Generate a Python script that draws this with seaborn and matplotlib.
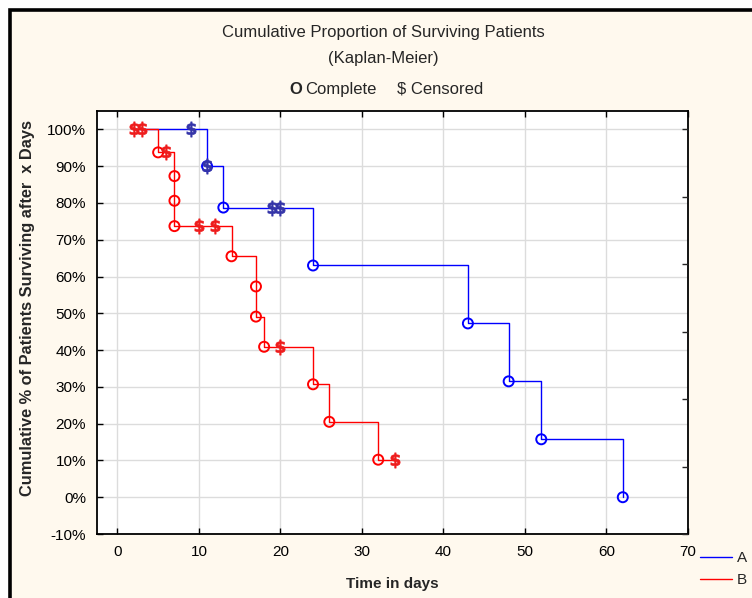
import numpy as np
import pandas as pd
import matplotlib
matplotlib.use("Agg")
import matplotlib.pyplot as plt
import seaborn as sns
from matplotlib.patches import Rectangle
from matplotlib.lines import Line2D

# ---- data (time in days, cumulative % surviving) ----
a_step_t = [2, 11, 13, 24, 43, 48, 52, 62]
a_step_s = [100, 90, 78.75, 63, 47.25, 31.5, 15.75, 0]
a_comp_t = [11, 13, 24, 43, 48, 52, 62]
a_comp_s = [90, 78.75, 63, 47.25, 31.5, 15.75, 0]
a_cens_t = [9, 11, 19, 20]
a_cens_s = [100, 90, 78.75, 78.75]

b_step_t = [2, 5, 7, 14, 17, 18, 24, 26, 32, 34]
b_step_s = [100, 93.75, 73.7, 65.5, 49.1, 40.9, 30.7, 20.5, 10.2, 10.2]
b_comp_t = [5, 7, 7, 7, 14, 17, 17, 18, 24, 26, 32]
b_comp_s = [93.75, 87.3, 80.6, 73.7, 65.5, 57.3, 49.1, 40.9, 30.7, 20.5, 10.2]
b_cens_t = [2, 3, 6, 10, 12, 20, 34]
b_cens_s = [100, 100, 93.75, 73.7, 73.7, 40.9, 10.2]

x_ticks = [0, 10, 20, 30, 40, 50, 60, 70]
y_ticks = [-10, 0, 10, 20, 30, 40, 50, 60, 70, 80, 90, 100]
y_ticklabels = ["-10%", "0%", "10%", "20%", "30%", "40%", "50%", "60%",
                "70%", "80%", "90%", "100%"]

BLUE = "#0000FF"
RED = "#FF0000"
BLUE_CENS = "#3434A8"
RED_CENS = "#EE1C1C"
CREAM = "#FFF9EE"

sns.set_theme(style="white")
plt.rcParams["font.family"] = ["Liberation Sans", "DejaVu Sans"]
plt.rcParams["axes.unicode_minus"] = False

fig = plt.figure(figsize=(7.52, 5.98), dpi=100, facecolor="white")
# cream panel with thick black frame (right/bottom edges run off the image)
fig.patches.append(Rectangle((9.5 / 752, -0.05), 1.0, 1 - 9.5 / 598 + 0.05,
                             transform=fig.transFigure, facecolor=CREAM,
                             edgecolor="black", linewidth=2.6, zorder=-5))

ax = fig.add_axes([97 / 752, 1 - 534 / 598, (688 - 97) / 752, (534 - 111) / 598])
ax.set_facecolor("white")

dfa = pd.DataFrame({"t": a_step_t, "s": a_step_s})
dfb = pd.DataFrame({"t": b_step_t, "s": b_step_s})
sns.lineplot(data=dfa, x="t", y="s", drawstyle="steps-post", estimator=None,
             sort=False, color=BLUE, lw=1.0, ax=ax, zorder=3)
sns.lineplot(data=dfb, x="t", y="s", drawstyle="steps-post", estimator=None,
             sort=False, color=RED, lw=1.0, ax=ax, zorder=4)

sns.scatterplot(x=a_comp_t, y=a_comp_s, marker="o", s=52, color=BLUE,
                facecolor="none", edgecolor=BLUE, linewidth=1.4, ax=ax, zorder=5)
sns.scatterplot(x=b_comp_t, y=b_comp_s, marker="o", s=52, color=RED,
                facecolor="none", edgecolor=RED, linewidth=1.4, ax=ax, zorder=5)

dollar = r"$\mathbf{\$}$"
sns.scatterplot(x=a_cens_t, y=a_cens_s, marker=dollar, s=120, color=BLUE_CENS,
                edgecolor=BLUE_CENS, linewidth=0.5, ax=ax, zorder=6)
sns.scatterplot(x=b_cens_t, y=b_cens_s, marker=dollar, s=120, color=RED_CENS,
                edgecolor=RED_CENS, linewidth=0.5, ax=ax, zorder=6)

ax.set_xlim(-2.5, 70)
ax.set_ylim(-10, 105)
ax.set_xticks(x_ticks)
ax.set_xticklabels([str(v) for v in x_ticks])
ax.set_yticks(y_ticks)
ax.set_yticklabels(y_ticklabels)
ax.grid(True, color="#DCDCDC", linewidth=1.0)
ax.set_axisbelow(True)
for sp in ax.spines.values():
    sp.set_visible(True)
    sp.set_color("black")
    sp.set_linewidth(1.3)
ax.tick_params(axis="both", direction="in", length=4, width=1, color="black",
               labelsize=11, labelcolor="black", pad=8, top=True, bottom=True,
               left=True, right=False)
ax.set_xlabel("Time in days", fontsize=11, fontweight="bold", labelpad=13)
ax.set_ylabel("Cumulative % of Patients Surviving after  x Days", fontsize=11.8,
              fontweight="bold")
ax.yaxis.set_label_coords((35 - 97) / 591, (534 - 308) / 423)

# right-side ticks (separate, unlabelled scale)
ax2 = ax.twinx()
ax2.set_ylim(-10, 105)
ax2.set_yticks(np.linspace(-10, 100, 7))
ax2.tick_params(axis="y", direction="in", length=4, width=1, labelright=False)
for sp in ax2.spines.values():
    sp.set_visible(False)

# titles
fig.text(383 / 752, 1 - 33 / 598, "Cumulative Proportion of Surviving Patients",
         ha="center", va="center", fontsize=12)
fig.text(383 / 752, 1 - 58 / 598, "(Kaplan-Meier)", ha="center", va="center",
         fontsize=12)
base = 1 - 93.5 / 598
fig.text(296 / 752, base, "O", ha="center", va="baseline", fontsize=12,
         fontweight="bold")
fig.text(305 / 752, base, "Complete", ha="left", va="baseline", fontsize=12)
fig.text(397 / 752, base, "$ Censored", ha="left", va="baseline", fontsize=12)

# legend at lower right
handles = [Line2D([], [], color=BLUE, lw=1.0), Line2D([], [], color=RED, lw=1.0)]
fig.legend(handles, ["A", "B"], loc="upper left",
           bbox_to_anchor=(700 / 752, 1 - 551 / 598), frameon=False,
           fontsize=11, handlelength=2.1, handletextpad=0.3, labelspacing=0.55,
           borderaxespad=0, borderpad=0)

fig.savefig("out.png", dpi=100, facecolor="white")
